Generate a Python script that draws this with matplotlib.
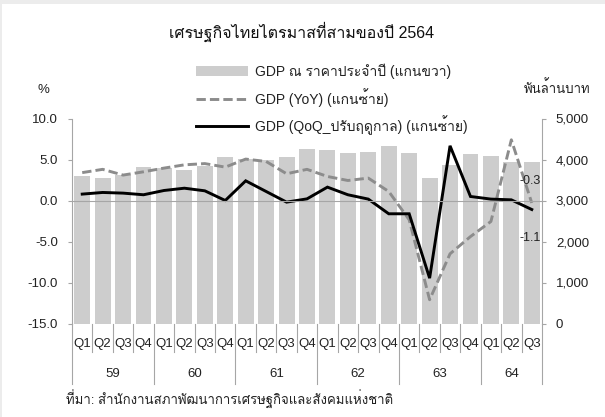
import numpy as np
import matplotlib
matplotlib.use("Agg")
import matplotlib.pyplot as plt
from matplotlib import font_manager as fm
from matplotlib.ft2font import FT2Font
from matplotlib.patches import Rectangle
import matplotlib.transforms as mtransforms
from matplotlib.ticker import FuncFormatter, MultipleLocator

# ---------------- data ----------------
quarters = ["Q1", "Q2", "Q3", "Q4"] * 5 + ["Q1", "Q2", "Q3"]
years = ["59", "60", "61", "62", "63", "64"]
gdp_nominal = [3586, 3545, 3620, 3807, 3790, 3750, 3832, 4052, 4011, 3995, 4060, 4250,
               4224, 4159, 4175, 4338, 4159, 3545, 3873, 4142, 4077, 3930, 3938]
gdp_yoy = [3.4, 3.8, 3.1, 3.5, 3.95, 4.35, 4.5, 4.07, 5.05, 4.76, 3.26, 3.8,
           2.93, 2.44, 2.73, 1.1, -2.35, -12.1, -6.5, -4.4, -2.56, 7.4, -0.3]
gdp_qoq = [0.78, 0.98, 0.9, 0.7, 1.22, 1.5, 1.18, 0.0, 2.4, 1.1, -0.2, 0.2,
           1.63, 0.7, 0.17, -1.62, -1.62, -9.47, 6.67, 0.49, 0.17, 0.08, -1.1]

title = "เศรษฐกิจไทยไตรมาสที่สามของปี 2564"
lab_bar = "GDP ณ ราคาประจำปี (แกนขวา)"
lab_yoy = "GDP (YoY) (แกนซ้าย)"
lab_qoq = "GDP (QoQ_ปรับฤดูกาล) (แกนซ้าย)"
left_unit = "%"
right_unit = "พันล้านบาท"
source = "ที่มา: สำนักงานสภาพัฒนาการเศรษฐกิจและสังคมแห่งชาติ"

# ---------------- fonts ----------------
def find_thai_family():
    preferred = []
    others = []
    for f in fm.fontManager.ttflist:
        try:
            cmap = FT2Font(f.fname).get_charmap()
        except Exception:
            continue
        if 0x0E01 in cmap and 0x0E33 in cmap:
            if any(k in f.name for k in ("Thai", "Sarabun", "Tlwg", "Loma", "Garuda", "Kinnari", "Norasi")):
                preferred.append(f.name)
            else:
                others.append(f.name)
    for lst in (preferred, others):
        if lst:
            return lst[0]
    return None

thai = find_thai_family()
families = ["Liberation Sans"] + ([thai] if thai else []) + ["DejaVu Sans"]
plt.rcParams["font.family"] = families
plt.rcParams["axes.unicode_minus"] = False

# ---------------- figure ----------------
W, H = 605, 417
fig = plt.figure(figsize=(W / 100, H / 100), dpi=100, facecolor="#ececec")
fig.patches.append(Rectangle((2 / W, 0), 1 - 2 / W, 1 - 4 / H, transform=fig.transFigure,
                             facecolor="white", edgecolor="none", zorder=-10))

x0, x1 = 72, 542
ytop, ybot = 118.5, 323.5
ax = fig.add_axes([x0 / W, 1 - ybot / H, (x1 - x0) / W, (ybot - ytop) / H])
ax2 = ax.twinx()
ax.set_zorder(ax2.get_zorder() + 1)
ax.patch.set_visible(False)

n = len(gdp_nominal)
x = np.arange(n)
grid_col = "#a6a6a6"
txt_col = "#222222"

bars = ax2.bar(x, gdp_nominal, width=0.78, color="#cdcdcd", edgecolor="none", label=lab_bar)
l_yoy, = ax.plot(x, gdp_yoy, color="#8c8c8c", lw=2.1, dashes=(3.2, 1.4), label=lab_yoy,
                 solid_capstyle="butt", dash_capstyle="butt")
l_qoq, = ax.plot(x, gdp_qoq, color="black", lw=2.1, label=lab_qoq, solid_joinstyle="miter")

ax.set_xlim(-0.5, n - 0.5)
ax.set_ylim(-15, 10)
ax2.set_ylim(0, 5000)
ax.yaxis.set_major_locator(MultipleLocator(5))
ax2.yaxis.set_major_locator(MultipleLocator(1000))
ax.yaxis.set_major_formatter(FuncFormatter(lambda v, p: f"{v:.1f}"))
ax2.yaxis.set_major_formatter(FuncFormatter(lambda v, p: f"{int(round(v)):,}"))

for a in (ax, ax2):
    a.spines["top"].set_visible(False)
ax2.spines["bottom"].set_visible(False)
ax2.spines["left"].set_visible(False)
ax.spines["right"].set_visible(False)
ax.spines["left"].set_color(grid_col)
ax2.spines["right"].set_color(grid_col)
ax.spines["bottom"].set_position(("data", 0))
ax.spines["bottom"].set_color(grid_col)

ax.set_xticks(np.arange(-0.5, n, 1.0))
ax.set_xticklabels([])
ax.tick_params(axis="x", direction="out", length=3.6, color=grid_col, width=0.8)
ax.tick_params(axis="y", direction="out", length=3, color=grid_col, width=0.8,
               labelsize=9.5, labelcolor=txt_col, pad=7)
ax2.tick_params(axis="y", direction="out", length=3, color=grid_col, width=0.8,
                labelsize=9.5, labelcolor=txt_col, pad=7)
ax2.set_xticks([])

# category labels below the plot
trans = mtransforms.blended_transform_factory(ax.transData, ax.transAxes)
ph = ybot - ytop
q_y = -(343.7 - ybot) / ph
yr_y = -(374 - ybot) / ph
short_end = -(352 - ybot) / ph
long_end = -(384 - ybot) / ph
for i, q in enumerate(quarters):
    ax.text(i, q_y, q, transform=trans, ha="center", va="center", fontsize=9.5, color=txt_col)
year_bounds = [-0.5, 3.5, 7.5, 11.5, 15.5, 19.5, n - 0.5]
for b in np.arange(-0.5, n, 1.0):
    end = long_end if b in year_bounds else short_end
    ax.plot([b, b], [0, end], transform=trans, color=grid_col, lw=0.8, clip_on=False)
for k, yl in enumerate(years):
    c = (year_bounds[k] + year_bounds[k + 1]) / 2
    ax.text(c, yr_y, yl, transform=trans, ha="center", va="center", fontsize=9.5, color=txt_col)

# value labels at the last quarter
ax.annotate(f"{gdp_yoy[-1]:.1f}", xy=(x[-1], gdp_yoy[-1]), xytext=(-2, 21.5),
            textcoords="offset pixels", ha="center", va="center", fontsize=9, color=txt_col)
ax.annotate(f"{gdp_qoq[-1]:.1f}", xy=(x[-1], gdp_qoq[-1]), xytext=(-2, -28.5),
            textcoords="offset pixels", ha="center", va="center", fontsize=9, color=txt_col)

# legend
leg = ax.legend(handles=[bars, l_yoy, l_qoq], labels=[lab_bar, lab_yoy, lab_qoq],
                loc="upper left", bbox_to_anchor=(196 / W, 1 - 63.5 / H),
                bbox_transform=fig.transFigure, frameon=False, fontsize=10,
                handlelength=3.75, handletextpad=0.5, labelspacing=0.63,
                borderpad=0, borderaxespad=0)
for t in leg.get_texts():
    t.set_color(txt_col)

# titles and notes
fig.text(302 / W, 1 - 31.7 / H, title, ha="center", va="center", fontsize=11.5, color="#111111")
fig.text(43 / W, 1 - 90 / H, left_unit, ha="center", va="center", fontsize=9.5, color=txt_col)
fig.text(557 / W, 1 - 88 / H, right_unit, ha="center", va="center", fontsize=9.5, color=txt_col)
fig.text(66 / W, 1 - 399 / H, source, ha="left", va="center", fontsize=9.5, color=txt_col)

fig.savefig("out.png", dpi=100, facecolor=fig.get_facecolor())
